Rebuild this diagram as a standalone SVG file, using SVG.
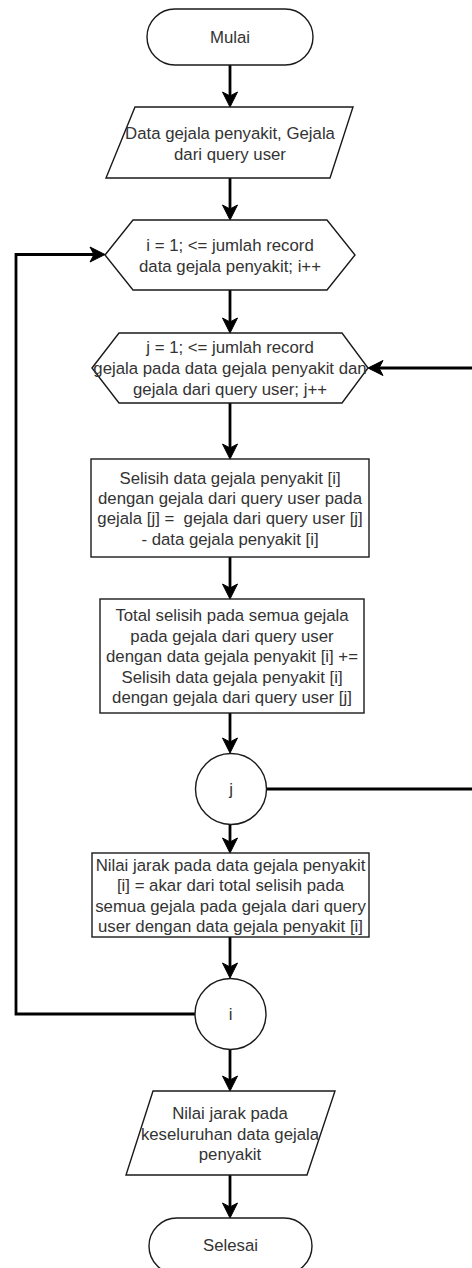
<svg xmlns="http://www.w3.org/2000/svg" width="472" height="1268" viewBox="0 0 472 1268">
<style>
.s{fill:#fff;stroke:#1a1a1a;stroke-width:1.4}
.t{font-family:"Liberation Sans",Arial,Helvetica,sans-serif;font-size:16.8px;fill:#333;text-anchor:middle}
.c{fill:none;stroke:#000;stroke-width:2.8;stroke-linejoin:miter;stroke-linecap:butt}
</style>
<defs>
<marker id="ar" markerUnits="userSpaceOnUse" markerWidth="20" markerHeight="20" refX="4" refY="0" viewBox="-2 -10 20 20" orient="auto" overflow="visible">
<path d="M0,-7.5 L15,0 L0,7.5 L4,0 Z" fill="#000" stroke="#000" stroke-width="1"/>
</marker>
</defs>
<g id="connectors">
<path class="c" d="M230,65 V96" marker-end="url(#ar)"/>
<path class="c" d="M230,178 V209" marker-end="url(#ar)"/>
<path class="c" d="M230,290 V322" marker-end="url(#ar)"/>
<path class="c" d="M230,403 V448" marker-end="url(#ar)"/>
<path class="c" d="M230,557 V588" marker-end="url(#ar)"/>
<path class="c" d="M230,713 V742" marker-end="url(#ar)"/>
<path class="c" d="M230,825 V842" marker-end="url(#ar)"/>
<path class="c" d="M230,937 V967" marker-end="url(#ar)"/>
<path class="c" d="M230,1050 V1080" marker-end="url(#ar)"/>
<path class="c" d="M230,1175 V1207" marker-end="url(#ar)"/>
<path class="c" d="M266.5,789 H478 V368 H379" marker-end="url(#ar)"/>
<path class="c" d="M195,1014 H16 V254.5 H94" marker-end="url(#ar)"/>
</g>
<g id="mulai">
<rect class="s" x="147" y="9" width="166" height="56" rx="28" ry="28"/>
<text class="t" x="230" y="43">Mulai</text>
</g>
<g id="input">
<polygon class="s" points="135,107 353,107 330,178 106,178"/>
<text class="t" x="230" y="139">Data gejala penyakit, Gejala</text>
<text class="t" x="230" y="160">dari query user</text>
</g>
<g id="loop-i">
<polygon class="s" points="105,255 133,220 327,220 355,255 327,290 133,290"/>
<text class="t" x="230" y="251">i = 1; &lt;= jumlah record</text>
<text class="t" x="230" y="272">data gejala penyakit; i++</text>
</g>
<g id="loop-j">
<polygon class="s" points="92,368 119,333 342,333 368,368 342,403 119,403"/>
<text class="t" x="230" y="353">j = 1; &lt;= jumlah record</text>
<text class="t" x="230" y="374">gejala pada data gejala penyakit dan</text>
<text class="t" x="230" y="395">gejala dari query user; j++</text>
</g>
<g id="selisih">
<rect class="s" x="91" y="459" width="278" height="98"/>
<text class="t" x="230" y="484">Selisih data gejala penyakit [i]</text>
<text class="t" x="230" y="504">dengan gejala dari query user pada</text>
<text class="t" x="230" y="524" xml:space="preserve">gejala [j] =  gejala dari query user [j]</text>
<text class="t" x="230" y="545">- data gejala penyakit [i]</text>
</g>
<g id="total">
<rect class="s" x="100" y="599" width="264" height="114"/>
<text class="t" x="232" y="621">Total selisih pada semua gejala</text>
<text class="t" x="232" y="642">pada gejala dari query user</text>
<text class="t" x="232" y="662">dengan data gejala penyakit [i] +=</text>
<text class="t" x="232" y="683">Selisih data gejala penyakit [i]</text>
<text class="t" x="232" y="703">dengan gejala dari query user [j]</text>
</g>
<g id="conn-j">
<circle class="s" cx="231" cy="789" r="35.5"/>
<text class="t" x="231" y="795">j</text>
</g>
<g id="nilai">
<rect class="s" x="92" y="853" width="277" height="84"/>
<text class="t" x="230.5" y="871">Nilai jarak pada data gejala penyakit</text>
<text class="t" x="230.5" y="891">[i] = akar dari total selisih pada</text>
<text class="t" x="230.5" y="912">semua gejala pada gejala dari query</text>
<text class="t" x="230.5" y="932">user dengan data gejala penyakit [i]</text>
</g>
<g id="conn-i">
<circle class="s" cx="230.5" cy="1014" r="35.5"/>
<text class="t" x="230.5" y="1020">i</text>
</g>
<g id="output">
<polygon class="s" points="153,1091 335,1091 307,1175 126,1175"/>
<text class="t" x="230" y="1119">Nilai jarak pada</text>
<text class="t" x="230" y="1140">keseluruhan data gejala</text>
<text class="t" x="230" y="1160">penyakit</text>
</g>
<g id="selesai">
<rect class="s" x="149" y="1218" width="163" height="56" rx="28" ry="28"/>
<text class="t" x="230.5" y="1251">Selesai</text>
</g>
</svg>
